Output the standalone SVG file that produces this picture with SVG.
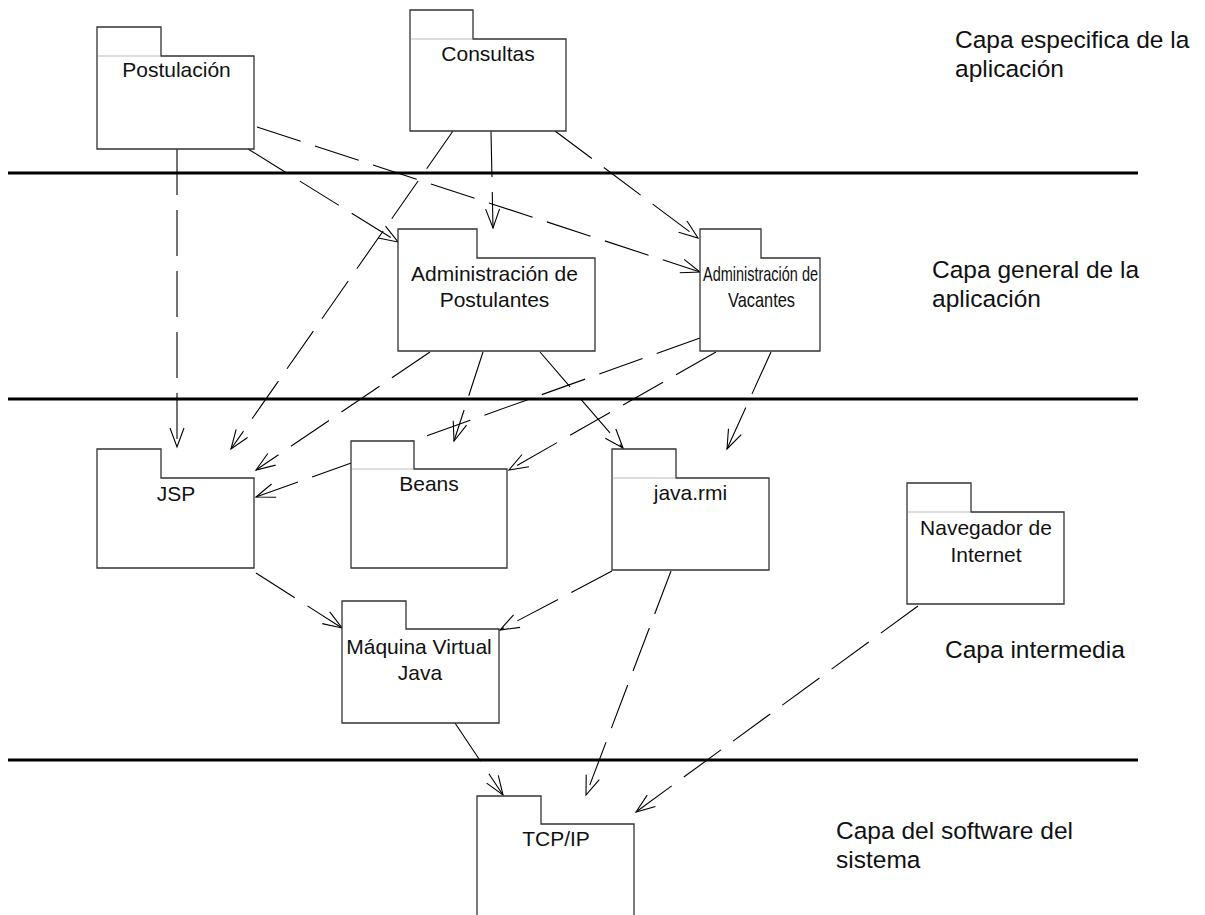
<svg xmlns="http://www.w3.org/2000/svg" width="1205" height="915" viewBox="0 0 1205 915">
  <style>
    .pkg { fill: #ffffff; stroke: #333333; stroke-width: 1.3; }
    .tabline { stroke: #bbbbbb; stroke-width: 1; }
    .lbl { font-family: "Liberation Sans", Arial, sans-serif; font-size: 21px; fill: #111111; text-anchor: middle; }
    .layer { font-family: "Liberation Sans", Arial, sans-serif; font-size: 24.5px; fill: #111111; }
    .sep { stroke: #000000; stroke-width: 3; }
    .dep { stroke: #000000; stroke-width: 1.1; fill: none; stroke-dasharray: 46 15; marker-end: url(#open); }
  </style>
  <defs>
    <!-- open arrowhead for dependency arrows -->
    <marker id="open" viewBox="-20 -10 22 20" refX="0" refY="0" markerWidth="22" markerHeight="20" markerUnits="userSpaceOnUse" orient="auto">
      <path d="M-19,-7 L0,0 L-19,7" fill="none" stroke="#000000" stroke-width="1.1" stroke-dasharray="none"/>
    </marker>
  </defs>

  <rect width="1205" height="915" fill="#ffffff"/>

  <!-- layer separators -->
  <g id="separators">
    <line class="sep" x1="8" y1="173" x2="1138" y2="173"/>
    <line class="sep" x1="8" y1="399" x2="1138" y2="399"/>
    <line class="sep" x1="8" y1="760" x2="1138" y2="760"/>
  </g>

  <!-- layer captions -->
  <g id="layers">
    <text class="layer" x="955" y="48">Capa especifica de la</text>
    <text class="layer" x="955" y="77">aplicación</text>
    <text class="layer" x="932" y="278">Capa general de la</text>
    <text class="layer" x="932" y="307">aplicación</text>
    <text class="layer" x="945" y="658">Capa intermedia</text>
    <text class="layer" x="836" y="839">Capa del software del</text>
    <text class="layer" x="836" y="868">sistema</text>
  </g>

  <!-- dependencies -->
  <g id="connectors">
    <line class="dep" x1="177" y1="149" x2="177" y2="447"/>
    <line class="dep" x1="257" y1="127" x2="700" y2="272"/>
    <line class="dep" x1="248" y1="149" x2="398" y2="242"/>
    <line class="dep" x1="453" y1="131" x2="231" y2="449"/>
    <line class="dep" x1="491" y1="131" x2="493" y2="228"/>
    <line class="dep" x1="555" y1="131" x2="698" y2="238"/>
    <line class="dep" x1="430" y1="352" x2="256" y2="470"/>
    <line class="dep" x1="483" y1="352" x2="454" y2="441"/>
    <line class="dep" x1="540" y1="352" x2="623" y2="448"/>
    <line class="dep" x1="700" y1="338" x2="256" y2="497"/>
    <line class="dep" x1="716" y1="352" x2="509" y2="470"/>
    <line class="dep" x1="771" y1="352" x2="727" y2="449"/>
    <line class="dep" x1="256" y1="573" x2="342" y2="628"/>
    <line class="dep" x1="612" y1="571" x2="500" y2="630"/>
    <line class="dep" x1="671" y1="571" x2="586" y2="795"/>
    <line class="dep" x1="455" y1="723" x2="503" y2="795"/>
    <line class="dep" x1="918" y1="606" x2="636" y2="812"/>
  </g>

  <!-- packages -->
  <g id="pkg-postulacion">
    <path class="pkg" d="M97,27 H161 V56 H254 V149 H97 Z"/>
    <line class="tabline" x1="98" y1="56" x2="160" y2="56"/>
    <text class="lbl" x="176.5" y="77">Postulación</text>
  </g>
  <g id="pkg-consultas">
    <path class="pkg" d="M410,10 H473 V39 H566 V131 H410 Z"/>
    <line class="tabline" x1="411" y1="39" x2="472" y2="39"/>
    <text class="lbl" x="488" y="61">Consultas</text>
  </g>
  <g id="pkg-adm-postulantes">
    <path class="pkg" d="M398,229 H477 V258 H595 V351 H398 Z"/>
    <text class="lbl" x="494.5" y="281">Administración de</text>
    <text class="lbl" x="494.5" y="307">Postulantes</text>
  </g>
  <g id="pkg-adm-vacantes">
    <path class="pkg" d="M700,229 H761 V258 H820 V351 H700 Z"/>
    <text class="lbl" x="760.5" y="281" textLength="115" lengthAdjust="spacingAndGlyphs">Administración de</text>
    <text class="lbl" x="761.5" y="307" textLength="67" lengthAdjust="spacingAndGlyphs">Vacantes</text>
  </g>
  <g id="pkg-jsp">
    <path class="pkg" d="M97,449 H161 V478 H254 V568 H97 Z"/>
    <text class="lbl" x="176" y="501">JSP</text>
  </g>
  <g id="pkg-beans">
    <path class="pkg" d="M351,441 H414 V469 H507 V568 H351 Z"/>
    <line class="tabline" x1="352" y1="469" x2="413" y2="469"/>
    <text class="lbl" x="429" y="491">Beans</text>
  </g>
  <g id="pkg-javarmi">
    <path class="pkg" d="M612,449 H676 V478 H769 V570 H612 Z"/>
    <line class="tabline" x1="613" y1="478" x2="675" y2="478"/>
    <text class="lbl" x="690.5" y="500">java.rmi</text>
  </g>
  <g id="pkg-jvm">
    <path class="pkg" d="M342,601 H406 V629 H499 V723 H342 Z"/>
    <text class="lbl" x="419" y="654">Máquina Virtual</text>
    <text class="lbl" x="420" y="680">Java</text>
  </g>
  <g id="pkg-tcpip">
    <path class="pkg" d="M477,796 H541 V824 H634 V925 H477 Z"/>
    <text class="lbl" x="556" y="846">TCP/IP</text>
  </g>
  <g id="pkg-navegador">
    <path class="pkg" d="M907,483 H971 V512 H1064 V604 H907 Z"/>
    <line class="tabline" x1="908" y1="512" x2="970" y2="512"/>
    <text class="lbl" x="986" y="535">Navegador de</text>
    <text class="lbl" x="986" y="562">Internet</text>
  </g>
</svg>
